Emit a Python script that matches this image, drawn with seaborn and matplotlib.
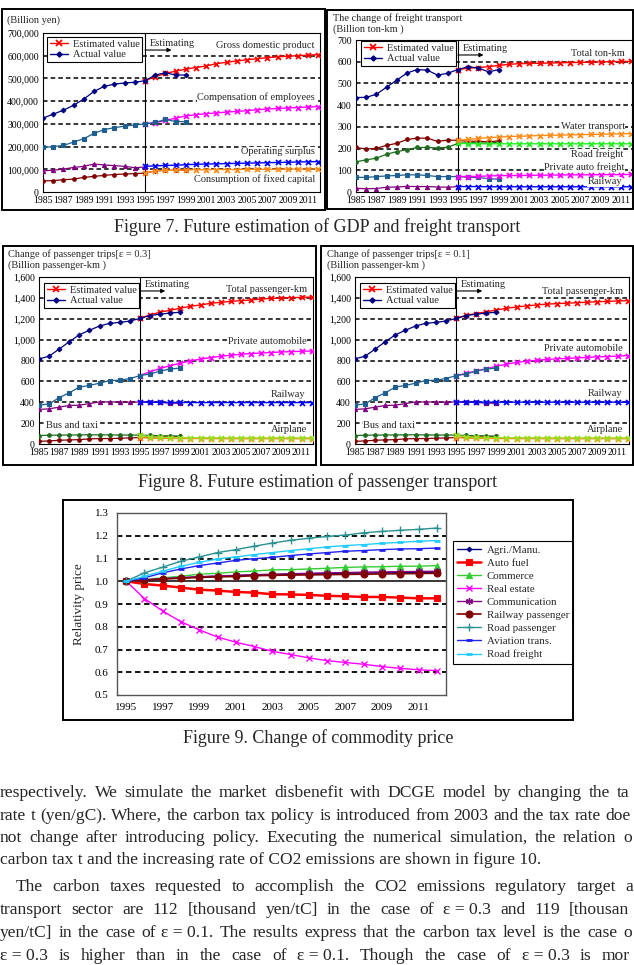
import numpy as np
import seaborn as sns
import matplotlib.pyplot as plt
from matplotlib.lines import Line2D
from matplotlib.patches import Rectangle

W, H = 634, 965

# ---------------- data ----------------
all_years = list(range(1985, 2013))
years_act = list(range(1985, 2000))
years_est = list(range(1995, 2013))
years_old = list(range(1985, 1996))

# Figure 7 left (billion yen)
gdp_act = [325000, 343000, 360000, 382000, 409000, 443000, 465000, 475000, 480000, 483000, 490000, 515000, 525000, 515000, 515000]
gdp_est = [490000, 508000, 522000, 532000, 541000, 548000, 555000, 565000, 571000, 577000, 582000, 587000, 591000, 595000, 598000, 600000, 602000, 605000]
comp_act = [196000, 200000, 205000, 220000, 235000, 258000, 275000, 283000, 290000, 295000, 300000, 306000, 320000, 310000, 310000]
comp_est = [300000, 305000, 315000, 325000, 335000, 340000, 345000, 348000, 352000, 355000, 358000, 362000, 365000, 368000, 370000, 372000, 374000, 376000]
surp_act = [93000, 96000, 101000, 108000, 113000, 123000, 119000, 116000, 113000, 107000, 110000]
surp_est = [113000, 115000, 117000, 118000, 120000, 122000, 123000, 124000, 125000, 126000, 127000, 128000, 129000, 130000, 131000, 132000, 133000, 134000]
cap_act = [49000, 50000, 54000, 57000, 64000, 69000, 73000, 77000, 79000, 81000, 83000, 93000, 95000, 96000, 97000]
cap_est = [83000, 93000, 95000, 96000, 97000, 98000, 98000, 99000, 99000, 99000, 100000, 100000, 100000, 100000, 101000, 101000, 101000, 101000]

# Figure 7 right (billion ton-km)
tot_act = [435, 436, 450, 483, 515, 548, 564, 561, 538, 547, 564, 577, 571, 553, 564]
tot_est = [564, 570, 573, 577, 583, 588, 591, 592, 593, 594, 595, 596, 597, 598, 599, 600, 601, 602]
water_act = [205, 198, 201, 215, 224, 242, 248, 248, 233, 239, 238, 233, 235, 230, 236]
water_est = [238, 242, 247, 250, 253, 255, 257, 258, 260, 261, 262, 263, 264, 265, 266, 267, 268, 269]
road_act = [139, 148, 156, 174, 186, 195, 205, 205, 203, 206, 224, 227, 227, 224, 230]
road_est = [224, 223, 222, 222, 222, 222, 222, 222, 222, 222, 222, 222, 222, 222, 222, 222, 222, 222]
pauto_act = [68, 67, 71, 74, 76, 79, 79, 76, 71, 71, 71, 68, 67, 61, 59]
pauto_est = [71, 71, 72, 74, 75, 76, 76, 77, 77, 78, 78, 79, 79, 79, 80, 80, 80, 81]
railf_act = [17, 15, 16, 22, 23, 26, 25, 25, 23, 22, 25]
railf_est = [25, 25, 25, 24, 24, 24, 24, 24, 24, 24, 24, 24, 24, 24, 24, 24, 24, 24]

# Figure 8 (billion passenger-km)
ptot_act = [816, 841, 910, 980, 1046, 1090, 1131, 1156, 1165, 1178, 1203, 1231, 1244, 1254, 1263]
ptot_est3 = [1203, 1238, 1263, 1282, 1301, 1320, 1332, 1348, 1357, 1367, 1373, 1380, 1389, 1395, 1398, 1402, 1405, 1408]
ptot_est1 = [1203, 1232, 1250, 1266, 1284, 1300, 1313, 1323, 1332, 1340, 1345, 1349, 1354, 1358, 1363, 1367, 1370, 1374]
pcar_act = [372, 384, 444, 491, 545, 561, 583, 608, 611, 627, 655, 671, 699, 718, 728]
pcar_est3 = [655, 693, 724, 750, 775, 797, 813, 828, 841, 850, 860, 866, 872, 876, 882, 885, 888, 891]
pcar_est1 = [655, 676, 699, 722, 745, 765, 782, 793, 803, 810, 816, 820, 825, 830, 835, 838, 842, 847]
prail_act = [331, 337, 353, 369, 372, 387, 403, 403, 403, 400, 403, 400, 398, 392, 390]
prail_est3 = [403, 400, 399, 398, 398, 397, 397, 397, 397, 397, 397, 397, 397, 397, 397, 397, 397, 397]
prail_est1 = [403, 402, 402, 401, 401, 401, 401, 401, 401, 401, 401, 401, 401, 401, 401, 401, 401, 401]
bus_act = [81, 84, 85, 86, 87, 88, 88, 87, 86, 86, 85, 82, 80, 78, 75]
bus_est = [85, 68, 64, 62, 61, 60, 60, 59, 59, 59, 58, 58, 58, 58, 58, 58, 58, 58]
air_act = [26, 29, 36, 39, 42, 49, 52, 52, 55, 58, 62, 65, 68, 70, 72]
air_est = [62, 56, 54, 53, 52, 52, 51, 51, 51, 50, 50, 50, 50, 50, 50, 50, 50, 50]

# Figure 9 (relative price)
agri = [1.0, 1.005, 1.011, 1.015, 1.019, 1.022, 1.025, 1.027, 1.029, 1.031, 1.033, 1.034, 1.035, 1.036, 1.037, 1.038, 1.039, 1.04]
fuel = [1.0, 0.988, 0.981, 0.972, 0.963, 0.959, 0.953, 0.950, 0.943, 0.942, 0.940, 0.936, 0.934, 0.931, 0.931, 0.928, 0.925, 0.925]
commerce = [1.0, 1.007, 1.015, 1.022, 1.031, 1.035, 1.041, 1.045, 1.05, 1.051, 1.054, 1.057, 1.061, 1.063, 1.064, 1.066, 1.066, 1.069]
real_estate = [1.0, 0.924, 0.869, 0.822, 0.786, 0.755, 0.732, 0.713, 0.692, 0.678, 0.663, 0.651, 0.643, 0.635, 0.625, 0.617, 0.611, 0.607]
communication = [1.0, 1.006, 1.012, 1.016, 1.02, 1.023, 1.026, 1.029, 1.031, 1.033, 1.035, 1.037, 1.038, 1.04, 1.041, 1.042, 1.043, 1.044]
rail_pass = [1.0, 1.005, 1.01, 1.013, 1.017, 1.019, 1.021, 1.024, 1.026, 1.027, 1.028, 1.029, 1.03, 1.031, 1.032, 1.033, 1.034, 1.035]
road_pass = [1.0, 1.037, 1.062, 1.088, 1.107, 1.126, 1.139, 1.154, 1.168, 1.18, 1.189, 1.197, 1.203, 1.213, 1.219, 1.224, 1.228, 1.234]
aviation = [1.0, 1.015, 1.037, 1.054, 1.069, 1.08, 1.092, 1.099, 1.105, 1.113, 1.12, 1.126, 1.132, 1.135, 1.139, 1.142, 1.143, 1.146]
road_freight = [1.0, 1.022, 1.044, 1.066, 1.083, 1.098, 1.107, 1.117, 1.126, 1.135, 1.143, 1.151, 1.157, 1.161, 1.167, 1.171, 1.176, 1.179]

NAVY, RED, MAG, BLUE, PURP = '#000080', '#FF0000', '#FF00FF', '#0000FF', '#800080'
STEEL, DRED, DGRN, ORNG = '#1F5F8F', '#800000', '#1E6B1E', '#FF8C1A'

sns.set_style("white")
plt.rcParams['font.family'] = ['Liberation Serif', 'DejaVu Serif']

fig = plt.figure(figsize=(W / 100, H / 100), dpi=100)


def fx(x):
    return x / W


def fy(y):
    return 1 - y / H


def add_ax(l, t, r, b):
    return fig.add_axes([l / W, 1 - b / H, (r - l) / W, (b - t) / H])


def txt(x, y, s, **kw):
    kw.setdefault('fontsize', 7.5)
    kw.setdefault('va', 'center')
    return fig.text(fx(x), fy(y), s, **kw)


def frame(l, t, r, b, lw=1.4):
    fig.patches.append(Rectangle((l / W, 1 - b / H), (r - l) / W, (b - t) / H,
                                 transform=fig.transFigure, fill=False, ec='black', lw=lw))


def series(ax, x, y, color, marker, ms=2.6, mew=0.8, lw=0.9, z=3):
    sns.lineplot(x=x, y=y, ax=ax, color=color, marker=marker, markersize=ms,
                 markeredgecolor=color, markerfacecolor=color, markeredgewidth=mew,
                 linewidth=lw, legend=False, zorder=z)


def est(ax, x, y, color):
    series(ax, x, y, color, 'x', ms=3.6, mew=1.3, lw=1.0, z=3)


DASH = (0, (3, 2))


def style_trend(ax, ymax, ystep, xmax, fmt):
    ax.set_xlim(1985, xmax)
    ax.set_ylim(0, ymax)
    yt = np.arange(0, ymax + 1, ystep)
    ax.set_yticks(yt)
    ax.set_yticklabels([fmt(v) for v in yt])
    ax.set_xticks(all_years)
    ax.set_xticklabels([str(y) if y % 2 else '' for y in all_years])
    for v in yt[1:-1]:
        ax.axhline(v, color='black', lw=1.1, ls=DASH, zorder=1)
    ax.axvline(1995, color='black', lw=0.8, zorder=2)
    for s in ax.spines.values():
        s.set_color('black')
        s.set_linewidth(0.8)
    ax.tick_params(axis='both', direction='out', length=2, width=0.6,
                   labelsize=7, pad=1, colors='black')
    ax.set_xlabel('')
    ax.set_ylabel('')


def est_legend(ax, x, y):
    h = [Line2D([], [], color=RED, marker='x', ms=3.8, mew=1.3, lw=1),
         Line2D([], [], color=NAVY, marker='D', ms=2.6, lw=1)]
    lg = ax.legend(h, ['Estimated value', 'Actual value'], loc='upper left',
                   bbox_to_anchor=(fx(x), fy(y)), bbox_transform=fig.transFigure,
                   borderaxespad=0, fancybox=False, edgecolor='black', framealpha=1,
                   fontsize=7.5, handlelength=1.8, handletextpad=0.4, borderpad=0.25,
                   labelspacing=0.1)
    lg.get_frame().set_linewidth(0.8)
    lg.set_zorder(6)


def estimating(ax, yv, x_end):
    ax.annotate('', xy=(x_end, yv), xytext=(1995, yv),
                arrowprops=dict(arrowstyle='-|>', color='black', lw=0.8,
                                mutation_scale=6, shrinkA=0, shrinkB=0))
    ax.annotate('Estimating', xy=(1995.5, yv), xytext=(0, 1.5), textcoords='offset points',
                fontsize=7.5, va='bottom', ha='left')


def lab(x, y, s, ha='right'):
    txt(x, y, s, ha=ha, zorder=5, bbox=dict(fc='white', ec='none', pad=0.3))


# ---------------- Figure 7 left ----------------
ax1 = add_ax(43, 33, 320, 192)
series(ax1, years_old, surp_act, PURP, '^', ms=3)
series(ax1, years_act, cap_act, DRED, 'o', ms=2.6)
est(ax1, years_est, surp_est, BLUE)
est(ax1, years_est, cap_est, ORNG)
est(ax1, years_est, comp_est, MAG)
est(ax1, years_est, gdp_est, RED)
series(ax1, years_act, comp_act, STEEL, 's', ms=2.4)
series(ax1, years_act, gdp_act, NAVY, 'D', ms=2.4)
style_trend(ax1, 700000, 100000, 2012.15, lambda v: f'{v:,.0f}')
est_legend(ax1, 47, 37)
estimating(ax1, 625000, 1997.6)

# ---------------- Figure 7 right ----------------
ax2 = add_ax(356, 40, 632, 192)
series(ax2, years_old, railf_act, PURP, '^', ms=3)
series(ax2, years_act, pauto_act, STEEL, 's', ms=2.4)
series(ax2, years_act, road_act, DGRN, 'o', ms=2.6)
series(ax2, years_act, water_act, DRED, 'o', ms=2.6)
est(ax2, years_est, railf_est, BLUE)
est(ax2, years_est, pauto_est, MAG)
est(ax2, years_est, road_est, '#22EE22')
est(ax2, years_est, water_est, ORNG)
est(ax2, years_est, tot_est, RED)
series(ax2, years_act, tot_act, NAVY, 'D', ms=2.4)
style_trend(ax2, 700, 100, 2012.06, lambda v: f'{v:,.0f}')
est_legend(ax2, 361, 41)
estimating(ax2, 631, 1997.5)


# ---------------- Figure 8 ----------------
def passenger(box, ptot_e, pcar_e, prail_e, leg_x, x_end):
    ax = add_ax(*box)
    series(ax, years_act, air_act, DRED, 'o', ms=2.6)
    series(ax, years_act, bus_act, DGRN, 'o', ms=2.6)
    est(ax, years_est, air_est, ORNG)
    est(ax, years_est, bus_est, '#99DD22')
    series(ax, years_act, prail_act, PURP, '^', ms=3)
    est(ax, years_est, prail_e, BLUE)
    est(ax, years_est, pcar_e, MAG)
    series(ax, years_act, pcar_act, STEEL, 's', ms=2.4)
    est(ax, years_est, ptot_e, RED)
    series(ax, years_act, ptot_act, NAVY, 'D', ms=2.4)
    style_trend(ax, 1600, 200, 2012.13, lambda v: f'{v:,.0f}')
    est_legend(ax, leg_x, 283)
    estimating(ax, 1466, x_end)
    return ax


ax3 = passenger((39, 277, 313, 444), ptot_est3, pcar_est3, prail_est3, 44, 1997.5)
ax4 = passenger((355, 277, 629, 444), ptot_est1, pcar_est1, prail_est1, 360, 1997.6)

# ---------------- Figure 9 ----------------
ax5 = add_ax(117, 513, 446, 695)
price_series = [
    ('Agri./Manu.', agri, NAVY, 'D', 2.4, 0.8, 1.0),
    ('Auto fuel', fuel, RED, 's', 5, 0.8, 1.8),
    ('Commerce', commerce, '#33CC33', '^', 4, 0.8, 1.0),
    ('Real estate', real_estate, MAG, 'x', 4.5, 1.0, 1.0),
    ('Communication', communication, PURP, (6, 2, 0), 5, 1.0, 1.0),
    ('Railway passenger', rail_pass, DRED, 'o', 5, 0.8, 1.2),
    ('Road passenger', road_pass, '#2A9090', '+', 5.5, 1.0, 1.0),
    ('Aviation trans.', aviation, '#2222EE', '_', 4, 2.0, 1.0),
    ('Road freight', road_freight, '#22CCFF', '_', 4, 2.0, 1.0),
]
handles = []
for name, vals, c, m, ms, mew, lw in price_series:
    series(ax5, years_est, vals, c, m, ms=ms, mew=mew, lw=lw)
    handles.append(Line2D([], [], color=c, marker=m, ms=ms, mew=mew, lw=lw, mec=c, mfc=c))
ax5.set_xlim(1994.5, 2012.5)
ax5.set_ylim(0.5, 1.3)
yt5 = [0.5, 0.6, 0.7, 0.8, 0.9, 1.0, 1.1, 1.2, 1.3]
ax5.set_yticks(yt5)
ax5.set_yticklabels([f'{v:.1f}' for v in yt5])
ax5.set_xticks(list(range(1995, 2012, 2)))
for v in [0.6, 0.7, 0.8, 0.9, 1.1, 1.2]:
    ax5.axhline(v, color='black', lw=1.3, ls=DASH, zorder=1)
ax5.axhline(1.0, color='black', lw=1.1, zorder=1)
for s in ax5.spines.values():
    s.set_color('#555555')
    s.set_linewidth(1.0)
ax5.tick_params(axis='both', length=0, labelsize=8, pad=6, colors='black')
ax5.set_xlabel('')
ax5.set_ylabel('')
lg5 = ax5.legend(handles, [p[0] for p in price_series], loc='upper left',
                 bbox_to_anchor=(fx(453), fy(541)), bbox_transform=fig.transFigure,
                 borderaxespad=0, fancybox=False, edgecolor='black', framealpha=1,
                 fontsize=7.8, handlelength=2.2, handletextpad=0.5, borderpad=0.4,
                 labelspacing=0.32)
lg5.get_frame().set_linewidth(0.8)
txt(79, 604, 'Relativity price', rotation=90, ha='center', fontsize=9.5)

# ---------------- frames, titles, labels ----------------
frame(2, 9, 325, 210)
frame(327, 10, 633, 209)
frame(3, 246, 316, 465)
frame(321, 246, 633, 465)
frame(63, 500, 573, 720)

txt(7, 20, '(Billion yen)', ha='left')
txt(333, 18, 'The change of freight transport', ha='left')
txt(333, 29, '(Billion ton-km )', ha='left')
txt(8, 254, 'Change of passenger trips[ε = 0.3]', ha='left')
txt(8, 265, '(Billion passenger-km )', ha='left')
txt(327, 254, 'Change of passenger trips[ε = 0.1]', ha='left')
txt(327, 265, '(Billion passenger-km )', ha='left')

lab(315, 45, 'Gross domestic product')
lab(315, 97, 'Compensation of employees')
lab(315, 152, 'Operating surplus')
lab(315, 179, 'Consumption of fixed capital')
lab(625, 53, 'Total ton-km')
lab(625, 126, 'Water transport')
lab(623, 154, 'Road freight')
lab(625, 167, 'Private auto freight')
lab(622, 182, 'Railway')
lab(307, 290, 'Total passenger-km')
lab(307, 342, 'Private automobile')
lab(305, 394, 'Railway')
lab(307, 429, 'Airplane')
lab(46, 426, 'Bus and taxi', ha='left')
lab(623, 291, 'Total passenger-km')
lab(623, 348, 'Private automobile')
lab(622, 393, 'Railway')
lab(623, 429, 'Airplane')
lab(363, 425, 'Bus and taxi', ha='left')

txt(317, 227, 'Figure 7. Future estimation of GDP and freight transport', ha='center', fontsize=13)
txt(318, 482, 'Figure 8. Future estimation of passenger transport', ha='center', fontsize=13)
txt(318, 738, 'Figure 9. Change of commodity price', ha='center', fontsize=13)

# ---------------- body text (justified lines, page cut at the right edge) ----------------
body = [
    ("respectively. We simulate the market disbenefit with DCGE model by changing the tax", 0, 793, True),
    ("rate t (yen/gC). Where, the carbon tax policy is introduced from 2003 and the tax rate does", 0, 815.5, True),
    ("not change after introducing policy. Executing the numerical simulation, the relation of", 0, 838, True),
    ("carbon tax t and the increasing rate of CO2 emissions are shown in figure 10.", 0, 860.5, False),
    ("The carbon taxes requested to accomplish the CO2 emissions regulatory target at", 16, 887, True),
    ("transport sector are 112 [thousand yen/tC] in the case of ε=0.3 and 119 [thousand", 0, 910, True),
    ("yen/tC] in the case of ε=0.1. The results express that the carbon tax level is the case of", 0, 933, True),
    ("ε=0.3 is higher than in the case of ε=0.1. Though the case of ε=0.3 is more", 0, 956, True),
]
BODY_FS = 12.6
RIGHT = 638
fig.canvas.draw()
rend = fig.canvas.get_renderer()
for line, x0, y, just in body:
    if not just:
        txt(x0, y, line, ha='left', fontsize=BODY_FS)
        continue
    words = [w.replace('=', ' = ') for w in line.split(' ')]
    ts = [txt(0, y, w, ha='left', fontsize=BODY_FS) for w in words]
    ws = [t.get_window_extent(rend).width for t in ts]
    gap = (RIGHT - x0 - sum(ws)) / (len(ws) - 1)
    xc = x0
    for t, w, word in zip(ts, ws, words):
        t.set_x(fx(xc))
        if xc + w > W:
            # only the part of the word left of the page edge is visible
            keep = ''
            for k in range(len(word), 0, -1):
                t.set_text(word[:k])
                if xc + t.get_window_extent(rend).width <= W:
                    keep = word[:k]
                    break
            t.set_text(keep)
        xc += w + gap

fig.savefig('out.png', dpi=100)
